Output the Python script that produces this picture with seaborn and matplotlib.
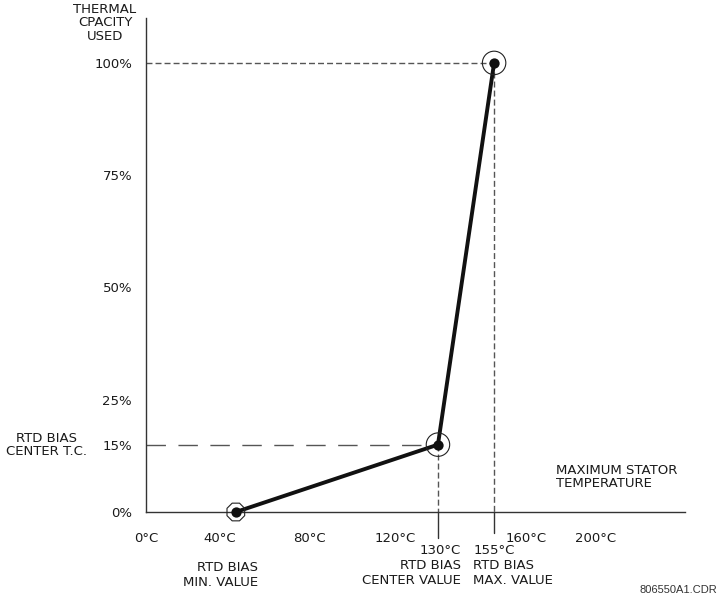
import matplotlib
matplotlib.use("Agg")
import matplotlib.pyplot as plt
import seaborn as sns
import pandas as pd

# ---- data ----
temps = [40, 130, 155]               # deg C
capacity = [0, 15, 100]              # % thermal capacity used
x_ticks = [0, 40, 80, 120, 160, 200]
x_tick_labels = ["0°C", "40°C", "80°C", "120°C", "160°C", "200°C"]
x_tick_align = ["center", "right", "right", "right", "left", "center"]
y_ticks = [0, 15, 25, 50, 75, 100]
y_tick_labels = ["0%", "15%", "25%", "50%", "75%", "100%"]
point_labels = ["RTD BIAS\nMIN. VALUE", "130°C\nRTD BIAS\nCENTER VALUE", "155°C\nRTD BIAS\nMAX. VALUE"]

df = pd.DataFrame({"temp": temps, "cap": capacity})

sns.set_style("white")
plt.rcParams["font.family"] = ["DejaVu Sans"]
TXT = "#1a1a1a"
FS = 9.5

fig = plt.figure(figsize=(7.2, 5.96), dpi=100)
ax = fig.add_axes([146 / 720, 84 / 596, 539 / 720, 494 / 596])
ax.set_xlim(0, 240)
ax.set_ylim(0, 110)

# guide lines
dash_short = (0, (4.3, 2.2))
ax.plot([0, temps[2]], [capacity[2], capacity[2]], color="#555555", lw=1.0, ls=dash_short, zorder=1)
ax.plot([temps[2], temps[2]], [capacity[2], 0], color="#555555", lw=1.0, ls=dash_short, zorder=1)
ax.plot([temps[1], temps[1]], [capacity[1], 0], color="#555555", lw=1.0, ls=dash_short, zorder=1)
ax.plot([0, temps[1]], [capacity[1], capacity[1]], color="#555555", lw=1.0, ls=(0, (14, 9)), zorder=1)
# solid extensions below axis
ax.plot([temps[1], temps[1]], [0, -5.8], color="#333333", lw=1.0, clip_on=False)
ax.plot([temps[2], temps[2]], [0, -4.7], color="#333333", lw=1.0, clip_on=False)

# main curve
sns.lineplot(data=df, x="temp", y="cap", color="#111111", lw=2.8, ax=ax, zorder=3, sort=False)
# outer rings
sns.scatterplot(x=temps[:1], y=capacity[:1], marker="8", s=190, facecolor="none",
                edgecolor="#222222", linewidth=0.8, ax=ax, zorder=4, clip_on=False)
sns.scatterplot(x=temps[1:], y=capacity[1:], marker="o", s=285, facecolor="none",
                edgecolor="#222222", linewidth=0.8, ax=ax, zorder=4, clip_on=False)
# inner dots
sns.scatterplot(x=temps, y=capacity, marker="o", s=55, color="#111111",
                edgecolor="#111111", linewidth=0, ax=ax, zorder=5, clip_on=False)

# axes styling
for s in ["top", "right"]:
    ax.spines[s].set_visible(False)
for s in ["left", "bottom"]:
    ax.spines[s].set_color("#333333")
    ax.spines[s].set_linewidth(1.0)
ax.set_xticks(x_ticks)
ax.set_xticklabels(x_tick_labels)
for lbl, ha in zip(ax.get_xticklabels(), x_tick_align):
    lbl.set_horizontalalignment(ha)
ax.set_yticks(y_ticks)
ax.set_yticklabels(y_tick_labels)
ax.tick_params(axis="x", direction="out", length=8, width=1.0, color="#333333", pad=6.5,
               labelsize=FS, labelcolor=TXT)
ax.tick_params(axis="y", direction="out", length=8, width=1.0, color="#333333", pad=2,
               labelsize=FS, labelcolor=TXT)
ax.set_xlabel("")
ax.set_ylabel("")

# annotations under the axis
ax.annotate(point_labels[0], xy=(temps[0], 0), xytext=(16, -35), textcoords="offset points",
            ha="right", va="top", fontsize=FS, color=TXT, linespacing=1.2)
ax.annotate(point_labels[1], xy=(temps[1], 0), xytext=(16.5, -23), textcoords="offset points",
            ha="right", va="top", fontsize=FS, color=TXT, linespacing=1.2)
ax.annotate(point_labels[2], xy=(temps[2], 0), xytext=(-15, -23), textcoords="offset points",
            ha="left", va="top", fontsize=FS, color=TXT, linespacing=1.2)

# axis titles
fig.text(105 / 720, 1 - 23 / 596, "THERMAL\nCPACITY\nUSED", ha="center", va="center",
         fontsize=FS, color=TXT, linespacing=1.05)
fig.text(46 / 720, 1 - 445 / 596, "RTD BIAS\nCENTER T.C.", ha="center", va="center",
         fontsize=FS, color=TXT, linespacing=1.05)
fig.text(556 / 720, 1 - 477 / 596, "MAXIMUM STATOR\nTEMPERATURE", ha="left", va="center",
         fontsize=FS, color=TXT, linespacing=1.05)
fig.text(717 / 720, 1 - 590 / 596, "806550A1.CDR", ha="right", va="center",
         fontsize=8, color="#333333", family=["Liberation Sans"])

fig.savefig("out.png", dpi=100)
